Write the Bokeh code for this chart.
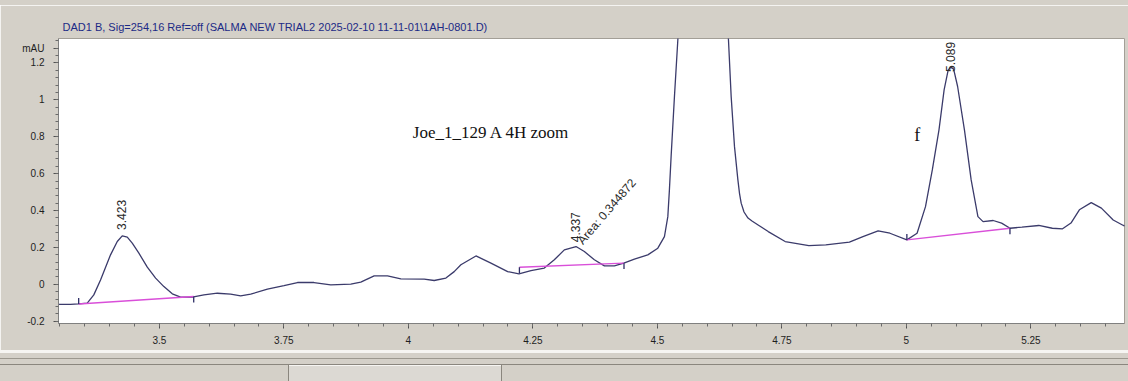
from bokeh.plotting import figure
from bokeh.models import Range1d, FixedTicker, Label, ColumnDataSource, Div
from bokeh.layouts import column
from bokeh.core.properties import value
from bokeh.embed import file_html
from bokeh.resources import INLINE
import math

# ---------------- data ----------------
time_min = [3.290, 3.3216, 3.3377, 3.3552, 3.3684, 3.3819, 3.4020, 3.4155, 3.4255, 3.4356,
            3.4456, 3.4589, 3.4758, 3.4925, 3.5091, 3.5260, 3.5427, 3.5662, 3.5895, 3.6165,
            3.6432, 3.6633, 3.6834, 3.7170, 3.7503, 3.7773, 3.8106, 3.8442, 3.8844, 3.9045,
            3.9313, 3.9582, 3.9849, 4.0318, 4.0519, 4.0754, 4.0921, 4.1055, 4.1357, 4.1658,
            4.1994, 4.2221, 4.2462, 4.2730, 4.2931, 4.3132, 4.3367, 4.3534, 4.3735, 4.3936,
            4.4137, 4.4326, 4.4539, 4.4808, 4.5009, 4.5142, 4.5210, 4.5242, 4.5276, 4.5343,
            4.5411, 4.555, 4.590, 4.625, 4.6428, 4.6482, 4.6549, 4.6617, 4.6650, 4.6683,
            4.6740, 4.6820, 4.6900, 4.7023, 4.7226, 4.7566, 4.8042, 4.8382, 4.8856, 4.9128,
            4.9433, 4.9670, 5.0010, 5.0215, 5.0384, 5.0521, 5.0655, 5.0758, 5.0840, 5.0894,
            5.0949, 5.1029, 5.1166, 5.1301, 5.1437, 5.1540, 5.1743, 5.1912, 5.2082, 5.2320,
            5.2659, 5.2931, 5.3136, 5.3305, 5.3474, 5.3712, 5.3916, 5.4153, 5.4358, 5.4490]
signal_mau = [-0.108, -0.108, -0.106, -0.102, -0.057, 0.024, 0.160, 0.232, 0.263, 0.256,
              0.223, 0.169, 0.093, 0.034, -0.012, -0.051, -0.069, -0.069, -0.057, -0.048,
              -0.053, -0.062, -0.053, -0.026, -0.007, 0.010, 0.010, -0.003, 0.001, 0.012,
              0.046, 0.046, 0.030, 0.028, 0.021, 0.034, 0.069, 0.106, 0.154, 0.115,
              0.069, 0.057, 0.075, 0.088, 0.133, 0.187, 0.205, 0.178, 0.133, 0.100,
              0.100, 0.115, 0.137, 0.160, 0.196, 0.259, 0.367, 0.512, 0.692, 1.017,
              1.324, 1.95, 2.45, 2.10, 1.324, 1.017, 0.746, 0.566, 0.492, 0.440,
              0.392, 0.359, 0.343, 0.322, 0.286, 0.232, 0.210, 0.214, 0.229, 0.259,
              0.290, 0.277, 0.241, 0.277, 0.421, 0.620, 0.837, 1.054, 1.162, 1.177,
              1.166, 1.072, 0.837, 0.566, 0.367, 0.340, 0.346, 0.332, 0.304, 0.310,
              0.319, 0.304, 0.301, 0.332, 0.404, 0.443, 0.413, 0.349, 0.319, 0.313]

# integration baselines (start / end of each integrated peak)
base_t0 = [3.338, 4.223, 5.001]
base_v0 = [-0.106, 0.093, 0.241]
base_t1 = [3.569, 4.433, 5.208]
base_v1 = [-0.066, 0.115, 0.304]
start_tick_dir = [1, -1, 1]     # tick mark above (+1) or below (-1) the baseline start

# retention time labels
rt_labels = ["3.423", "4.337", "5.089"]
rt_label_t = [3.4245, 4.3365, 5.0885]
rt_label_v = [0.295, 0.228, 1.151]
area_text = "Area: 0.344872"
area_t, area_v = 4.3445, 0.226

annotation_text = "Joe_1_129 A 4H zoom"
annotation_t, annotation_v = 4.009, 0.822
marker_text = "f"
marker_t, marker_v = 5.016, 0.810

title_text = "DAD1 B, Sig=254,16 Ref=off (SALMA NEW TRIAL2 2025-02-10 11-11-01\\1AH-0801.D)"

x_major = [3.5, 3.75, 4.0, 4.25, 4.5, 4.75, 5.0, 5.25]
x_labels = ["3.5", "3.75", "4", "4.25", "4.5", "4.75", "5", "5.25"]
y_major = [-0.2, 0.0, 0.2, 0.4, 0.6, 0.8, 1.0, 1.2, 1.28]
y_labels = ["-0.2", "0", "0.2", "0.4", "0.6", "0.8", "1", "1.2", "mAU"]

# ---------------- figure ----------------
W, H = 1128, 381
TOP_H, FOOT_H = 5, 31
GRAY = "#d4d0c8"
p = figure(width=W, height=H - TOP_H - FOOT_H, x_range=Range1d(3.2975, 5.438),
           y_range=Range1d(-0.212, 1.332),
           output_backend="svg", toolbar_location=None,
           min_border_left=58, min_border_right=4, min_border_top=33, min_border_bottom=27,
           background_fill_color="white", border_fill_color=GRAY,
           outline_line_color="#a39f97", outline_line_width=1)
p.grid.visible = False

p.title.text = title_text
p.title.align = "left"
p.title.offset = 4
p.title.standoff = 12
p.title.text_font = "Liberation Sans"
p.title.text_font_size = "11px"
p.title.text_font_style = "normal"
p.title.text_color = "#1c2a86"

x_minor = [round(3.30 + 0.05 * i, 2) for i in range(43)]
y_minor = [round(-0.2 + 0.04 * i, 2) for i in range(39)]

xa = p.xaxis[0]
ya = p.yaxis[0]
xa.ticker = FixedTicker(ticks=x_major, minor_ticks=x_minor)
ya.ticker = FixedTicker(ticks=y_major, minor_ticks=y_minor)
xa.major_label_overrides = {v: s for v, s in zip(x_major, x_labels)}
ya.major_label_overrides = {v: s for v, s in zip(y_major, y_labels)}
for ax in (xa, ya):
    ax.axis_line_color = "#808080"
    ax.major_tick_line_color = "#505050"
    ax.minor_tick_line_color = "#6a6a6a"
    ax.major_tick_in = 0
    ax.major_tick_out = 5
    ax.minor_tick_in = 0
    ax.minor_tick_out = 3
    ax.major_label_text_font = "Liberation Sans"
    ax.major_label_text_font_size = "10px"
    ax.major_label_text_color = "#1e1e1e"
xa.major_label_standoff = 7
ya.major_label_standoff = 9

# ---------------- signal ----------------
p.line(time_min, signal_mau, line_color="#3b3b6b", line_width=1.3)

bsrc = ColumnDataSource(dict(t0=base_t0, v0=base_v0, t1=base_t1, v1=base_v1))
p.segment(x0="t0", y0="v0", x1="t1", y1="v1", source=bsrc, line_color="#d94fd9", line_width=1.4)

tick_len = 0.032
st_src = ColumnDataSource(dict(t=base_t0, v0=base_v0,
                               v1=[v + d * tick_len for v, d in zip(base_v0, start_tick_dir)]))
en_src = ColumnDataSource(dict(t=base_t1, v0=base_v1, v1=[v - tick_len for v in base_v1]))
p.segment(x0="t", y0="v0", x1="t", y1="v1", source=st_src, line_color="#2e2e66", line_width=1.3)
p.segment(x0="t", y0="v0", x1="t", y1="v1", source=en_src, line_color="#2e2e66", line_width=1.3)

lsrc = ColumnDataSource(dict(t=rt_label_t, v=rt_label_v, txt=rt_labels))
p.text(x="t", y="v", text="txt", source=lsrc, angle=math.pi / 2, text_align="left",
       text_baseline="middle", text_font=value("Liberation Sans"), text_font_size="12px",
       text_color="#2a2a2a")
p.text(x=[area_t], y=[area_v], text=[area_text], angle=0.86, text_align="left",
       text_baseline="middle", text_font=value("Liberation Sans"), text_font_size="12px",
       text_color="#2a2a2a")

p.add_layout(Label(x=annotation_t, y=annotation_v, text=annotation_text,
                   text_font="Liberation Serif", text_font_size="17px", text_color="#111111",
                   text_baseline="alphabetic", text_align="left"))
p.add_layout(Label(x=marker_t, y=marker_v, text=marker_text,
                   text_font="Liberation Serif", text_font_size="18px", text_color="#111111",
                   text_baseline="alphabetic", text_align="left"))

# ---------------- window chrome above and below the chart ----------------
def bar(x0, y0, x1, y1, color):
    return (f"<div style='position:absolute;left:{x0}px;top:{y0}px;width:{x1 - x0}px;"
            f"height:{y1 - y0}px;background:{color};'></div>")

top_html = (f"<div style='position:relative;width:{W}px;height:{TOP_H}px;background:{GRAY};'>"
            + bar(0, 0, W, 4, "#eceae6") + bar(0, 4, W, 5, "#9c988f") + "</div>")
foot_html = (f"<div style='position:relative;width:{W}px;height:{FOOT_H}px;background:{GRAY};'>"
             + bar(0, 0, W, 3, "#f6f5f2")
             + bar(0, 8, W, 9, "#9c988f")
             + bar(0, 14, W, 15, "#8a867e")
             + bar(289, 15, 501, FOOT_H, "#dcd9d3")
             + bar(288, 15, 289, FOOT_H, "#8a867e")
             + bar(501, 15, 502, FOOT_H, "#8a867e")
             + bar(289, 15, 501, 16, "#f6f5f2")
             + "</div>")
top_div = Div(text=top_html, width=W, height=TOP_H, margin=0,
              styles={"background": GRAY, "overflow": "hidden"})
foot_div = Div(text=foot_html, width=W, height=FOOT_H, margin=0,
               styles={"background": GRAY, "overflow": "hidden"})

layout = column(top_div, p, foot_div, spacing=0)
open("out.html", "w").write(file_html(layout, INLINE))
